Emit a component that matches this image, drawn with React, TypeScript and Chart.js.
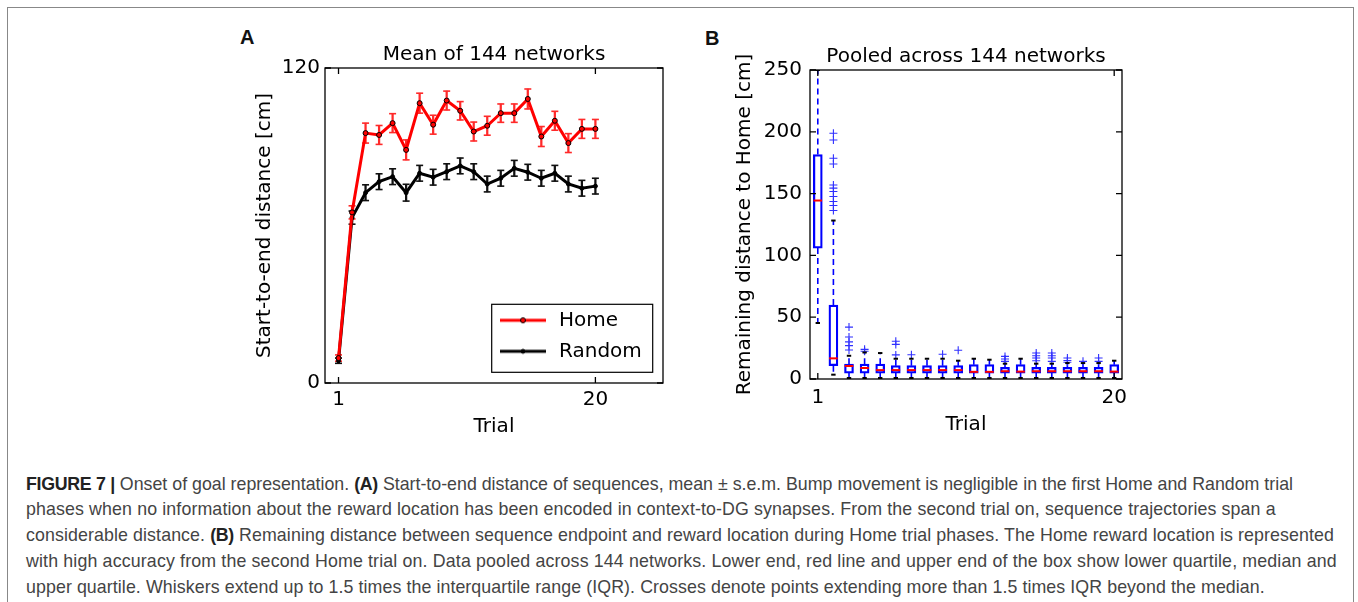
import React, { useEffect, useRef } from 'react';
import { Chart, registerables } from 'chart.js';

Chart.register(...registerables);
Chart.defaults.font.family = "'DejaVu Sans', sans-serif";
Chart.defaults.font.size = 20;
Chart.defaults.color = '#000';

// ---------- Panel A data ----------
const trials = [1, 2, 3, 4, 5, 6, 7, 8, 9, 10, 11, 12, 13, 14, 15, 16, 17, 18, 19, 20];
const homeMean = [9.5, 65, 95.2, 94.5, 99, 88.8, 106.6, 98.4, 107.6, 103.7, 95.8, 98, 102.8, 102.8, 108.2, 93.9, 99.9, 91.4, 96.8, 96.8];
const homeSem = [1.2, 2.5, 3.8, 3.6, 3.6, 3.8, 3.8, 3.6, 3.6, 3.5, 3.6, 3.6, 3.5, 3.5, 3.8, 3.8, 3.6, 3.6, 3.6, 3.6];
const randomMean = [8.5, 63, 72.5, 76.7, 78.6, 72.5, 79.9, 78.4, 80.5, 82.7, 80.5, 75.8, 78, 81.8, 80.3, 78, 79.9, 75.8, 74.2, 75];
const randomSem = [1, 2.5, 3, 3, 3, 3.2, 3, 3, 3, 3, 3, 3, 3, 3, 3, 3, 3, 3, 3, 3];
const xTicksA = [1, 20];
const yTicksA = [0, 120];

// ---------- Panel B data ----------
const boxLow = [45.3, 3.5, 0.8, 0.8, 0.8, 0.8, 0.8, 0.8, 0.8, 0.8, 0.8, 0.8, 0.8, 0.8, 0.8, 0.8, 0.8, 0.8, 0.8, 0.8];
const boxQ1 = [105.9, 10.8, 4.8, 4.8, 4.8, 4.8, 4.8, 4.8, 4.8, 4.8, 4.8, 4.8, 4.8, 4.8, 4.8, 4.8, 4.8, 4.8, 4.8, 4.8];
const boxMedian = [144.4, 16.7, 10.5, 8.9, 7.2, 7.2, 7.2, 7.2, 7.2, 7.2, 5.8, 5.8, 6.3, 6.0, 6.3, 6.3, 6.3, 6.3, 6.3, 6.0];
const boxQ3 = [181.6, 59.8, 12, 12, 12, 10.8, 10.8, 10.8, 10.8, 10.8, 11.6, 11.6, 9.5, 11.6, 9.5, 9.5, 9.5, 9.5, 9.5, 11.6];
const boxHigh = [250, 128.2, 18.8, 21.5, 21, 16.4, 16.4, 16.4, 16.4, 14.8, 16.4, 15.6, 12.4, 16.4, 12.4, 12.4, 12.9, 12.9, 12.9, 14.8];
const boxOutliers: number[][] = [
  [],
  [198.8, 193.4, 178.6, 174, 157, 154.4, 151.7, 147.7, 143.6, 140.4, 136.3],
  [42, 34, 30, 27, 23.5],
  [24, 22.5],
  [],
  [30.5, 28, 19.5],
  [19.6],
  [],
  [20],
  [23.2],
  [],
  [],
  [18.3, 16.2, 14.3],
  [],
  [21, 18.8, 17, 14.8],
  [21, 18.8, 17, 14.3],
  [17, 15, 13.5],
  [14.3],
  [17, 14.3],
  [],
];
const xTicksB = [1, 20];
const yTicksB = [0, 50, 100, 150, 200, 250];

// ---------- plugins ----------
const framePlugin = {
  id: 'mplFrame',
  afterDraw(chart: any) {
    const { ctx, chartArea: ca, scales } = chart;
    ctx.save();
    ctx.strokeStyle = '#000';
    ctx.lineWidth = 1.3;
    ctx.strokeRect(ca.left, ca.top, ca.right - ca.left, ca.bottom - ca.top);
    const L = 6;
    ctx.beginPath();
    scales.x.ticks.forEach((t: any) => {
      const px = scales.x.getPixelForValue(t.value);
      ctx.moveTo(px, ca.bottom); ctx.lineTo(px, ca.bottom - L);
      ctx.moveTo(px, ca.top); ctx.lineTo(px, ca.top + L);
    });
    scales.y.ticks.forEach((t: any) => {
      const py = scales.y.getPixelForValue(t.value);
      ctx.moveTo(ca.left, py); ctx.lineTo(ca.left + L, py);
      ctx.moveTo(ca.right, py); ctx.lineTo(ca.right - L, py);
    });
    ctx.stroke();
    const lb = chart.$legendBox;
    if (lb) {
      ctx.lineWidth = 1.2;
      ctx.strokeRect(lb.left, lb.top, lb.width, lb.height);
    }
    ctx.restore();
  },
};

const legendPlacePlugin = {
  id: 'legendPlace',
  afterLayout(chart: any) {
    const lg = chart.legend;
    const ca = chart.chartArea;
    if (!lg) return;
    const bw = 161;
    const bh = 68;
    const right = ca.right - 10.3;
    const bottom = ca.bottom - 10.7;
    const left = right - bw;
    const top = bottom - bh;
    lg.left = left - 5.7;
    lg.right = right;
    lg.top = top;
    lg.bottom = bottom;
    lg.width = lg.right - lg.left;
    lg.height = bh;
    chart.$legendBox = { left, top, width: bw, height: bh };
  },
};

function legendIcon(color: string, r: number) {
  const c = document.createElement('canvas');
  c.width = 46;
  c.height = 10;
  const g = c.getContext('2d')!;
  g.strokeStyle = color;
  g.lineWidth = 3;
  g.beginPath(); g.moveTo(0, 5); g.lineTo(46, 5); g.stroke();
  g.beginPath(); g.arc(23, 5, r, 0, Math.PI * 2);
  g.fillStyle = color; g.fill();
  g.lineWidth = 1; g.strokeStyle = '#000'; g.stroke();
  return c;
}

function errData(mean: number[], sem: number[]) {
  return trials.map((t, i) => ({ x: t, y: [mean[i] - sem[i], mean[i] + sem[i]] }));
}
function capData(mean: number[], sem: number[]) {
  return trials.flatMap((t, i) => [{ x: t, y: mean[i] - sem[i] }, { x: t, y: mean[i] + sem[i] }]);
}

function ChartA() {
  const ref = useRef<HTMLCanvasElement>(null);
  useEffect(() => {
    const homeIcon = legendIcon('#ff0000', 2.5);
    const randIcon = legendIcon('#000000', 2);
    const chart = new Chart(ref.current!, {
      type: 'scatter',
      data: {
        datasets: [
          {
            type: 'line', label: 'Home',
            data: trials.map((t, i) => ({ x: t, y: homeMean[i] })),
            borderColor: '#ff0000', borderWidth: 3, tension: 0,
            pointRadius: 2.5, pointBackgroundColor: '#ff0000', pointBorderColor: '#000', pointBorderWidth: 1,
          },
          {
            type: 'line', label: 'Random',
            data: trials.map((t, i) => ({ x: t, y: randomMean[i] })),
            borderColor: '#000', borderWidth: 3, tension: 0,
            pointRadius: 2, pointBackgroundColor: '#000', pointBorderColor: '#000', pointBorderWidth: 1,
          },
          {
            type: 'bar', label: 'homeErr', data: errData(homeMean, homeSem) as any,
            backgroundColor: '#ff2a2a', borderWidth: 0, barThickness: 1.6, grouped: false,
          },
          {
            type: 'scatter', label: 'homeCaps', data: capData(homeMean, homeSem),
            pointStyle: 'line', pointRadius: 3.5, borderColor: '#ff2a2a', borderWidth: 1.6, showLine: false,
          },
          {
            type: 'bar', label: 'randErr', data: errData(randomMean, randomSem) as any,
            backgroundColor: '#111', borderWidth: 0, barThickness: 1.6, grouped: false,
          },
          {
            type: 'scatter', label: 'randCaps', data: capData(randomMean, randomSem),
            pointStyle: 'line', pointRadius: 3.5, borderColor: '#111', borderWidth: 1.6, showLine: false,
          },
        ] as any,
      },
      options: {
        responsive: false,
        animation: false,
        layout: { padding: { left: 0, right: 17, top: 0, bottom: 0 } },
        plugins: {
          title: {
            display: true, text: 'Mean of 144 networks', fullSize: false, color: '#000',
            font: { size: 20, weight: 'normal' }, padding: { top: 23, bottom: 1 },
          },
          legend: {
            display: true, position: 'chartArea', align: 'end',
            labels: {
              usePointStyle: true, pointStyleWidth: 52, padding: 11, color: '#000', font: { size: 20 },
              generateLabels: () => [
                { text: 'Home', pointStyle: homeIcon, datasetIndex: 0, fontColor: '#000', lineWidth: 0, hidden: false, fillStyle: '#ff0000', strokeStyle: '#ff0000' },
                { text: 'Random', pointStyle: randIcon, datasetIndex: 1, fontColor: '#000', lineWidth: 0, hidden: false, fillStyle: '#000', strokeStyle: '#000' },
              ] as any,
            },
          },
          tooltip: { enabled: false },
        },
        scales: {
          x: {
            type: 'linear', min: 0, max: 25, offset: false,
            afterBuildTicks: (s: any) => { s.ticks = xTicksA.map((v) => ({ value: v })); },
            afterFit: (s: any) => { s.height = 57; },
            ticks: { padding: 5, color: '#000', font: { size: 20 }, autoSkip: false, maxRotation: 0, callback: (v: any) => String(v) },
            grid: { display: false, drawTicks: false, offset: false },
            border: { display: false },
            title: { display: true, text: 'Trial', color: '#000', font: { size: 20 }, padding: { top: 0, bottom: 1 } },
          },
          y: {
            type: 'linear', min: 0, max: 120, offset: false,
            afterBuildTicks: (s: any) => { s.ticks = yTicksA.map((v) => ({ value: v })); },
            afterFit: (s: any) => { s.width = 95; },
            ticks: { padding: 5, color: '#000', font: { size: 20 }, autoSkip: false, callback: (v: any) => String(v) },
            grid: { display: false, drawTicks: false },
            border: { display: false },
            title: { display: true, text: 'Start-to-end distance [cm]', color: '#000', font: { size: 20 }, padding: { top: 23, bottom: 0 } },
          },
        },
      } as any,
      plugins: [framePlugin, legendPlacePlugin],
    });
    return () => chart.destroy();
  }, []);
  return <canvas ref={ref} width={450} height={420} style={{ position: 'absolute', left: 230, top: 20 }} />;
}

function ChartB() {
  const ref = useRef<HTMLCanvasElement>(null);
  useEffect(() => {
    const whiskers: any[] = [];
    trials.forEach((t, i) => {
      whiskers.push({ x: t, y: boxQ3[i] }, { x: t, y: boxHigh[i] }, { x: t, y: null });
      whiskers.push({ x: t, y: boxQ1[i] }, { x: t, y: boxLow[i] }, { x: t, y: null });
    });
    const caps = trials.flatMap((t, i) => [{ x: t, y: boxLow[i] }, { x: t, y: boxHigh[i] }]);
    const medians = trials.map((t, i) => ({ x: t, y: boxMedian[i] }));
    const outl = trials.flatMap((t, i) => boxOutliers[i].map((v) => ({ x: t, y: v })));
    const boxes = trials.map((t, i) => ({ x: t, y: [boxQ1[i], boxQ3[i]] }));
    const chart = new Chart(ref.current!, {
      type: 'scatter',
      data: {
        datasets: [
          {
            type: 'scatter', label: 'median', data: medians,
            pointStyle: 'line', pointRadius: 4.3, borderColor: '#ff0000', borderWidth: 2, showLine: false,
          },
          {
            type: 'scatter', label: 'caps', data: caps,
            pointStyle: 'line', pointRadius: 2.2, borderColor: '#000', borderWidth: 2, showLine: false,
          },
          {
            type: 'scatter', label: 'outliers', data: outl,
            pointStyle: 'cross', pointRadius: 4, borderColor: '#3030ff', borderWidth: 1.1, showLine: false,
          },
          {
            type: 'line', label: 'whiskers', data: whiskers,
            borderColor: '#0000ff', borderWidth: 1.6, borderDash: [6, 4], pointRadius: 0, spanGaps: false, tension: 0,
          },
          {
            type: 'bar', label: 'boxes', data: boxes as any,
            backgroundColor: 'rgba(255,255,255,0)', borderColor: '#0000ff', borderWidth: 1.6,
            borderSkipped: false, barThickness: 9, grouped: false,
          },
        ] as any,
      },
      options: {
        responsive: false,
        animation: false,
        layout: { padding: { left: 0, right: 18, top: 0, bottom: 0 } },
        plugins: {
          title: {
            display: true, text: 'Pooled across 144 networks', fullSize: false, color: '#000',
            font: { size: 20, weight: 'normal' }, padding: { top: 25, bottom: 1 },
          },
          legend: { display: false },
          tooltip: { enabled: false },
        },
        scales: {
          x: {
            type: 'linear', min: 0.5, max: 20.5, offset: false,
            afterBuildTicks: (s: any) => { s.ticks = xTicksB.map((v) => ({ value: v })); },
            afterFit: (s: any) => { s.height = 61; },
            ticks: { padding: 6.5, color: '#000', font: { size: 20 }, autoSkip: false, maxRotation: 0, callback: (v: any) => String(v) },
            grid: { display: false, drawTicks: false, offset: false },
            border: { display: false },
            title: { display: true, text: 'Trial', color: '#000', font: { size: 20 }, padding: { top: 0, bottom: 3 } },
          },
          y: {
            type: 'linear', min: 0, max: 250, offset: false,
            afterBuildTicks: (s: any) => { s.ticks = yTicksB.map((v) => ({ value: v })); },
            afterFit: (s: any) => { s.width = 110; },
            ticks: { padding: 8, color: '#000', font: { size: 20 }, autoSkip: false, callback: (v: any) => String(v) },
            grid: { display: false, drawTicks: false },
            border: { display: false },
            title: { display: true, text: 'Remaining distance to Home [cm]', color: '#000', font: { size: 20 }, padding: { top: 33, bottom: 0 } },
          },
        },
      } as any,
      plugins: [framePlugin],
    });
    return () => chart.destroy();
  }, []);
  return <canvas ref={ref} width={440} height={420} style={{ position: 'absolute', left: 700, top: 20 }} />;
}

const boldStyle = { color: '#222', letterSpacing: '-0.3px' };
const captionLines: React.ReactNode[] = [
  <><b style={boldStyle}>FIGURE 7 |</b> Onset of goal representation. <b style={boldStyle}>(A)</b> Start-to-end distance of sequences, mean ± s.e.m. Bump movement is negligible in the first Home and Random trial</>,
  <>phases when no information about the reward location has been encoded in context-to-DG synapses. From the second trial on, sequence trajectories span a</>,
  <>considerable distance. <b style={boldStyle}>(B)</b> Remaining distance between sequence endpoint and reward location during Home trial phases. The Home reward location is represented</>,
  <>with high accuracy from the second Home trial on. Data pooled across 144 networks. Lower end, red line and upper end of the box show lower quartile, median and</>,
  <>upper quartile. Whiskers extend up to 1.5 times the interquartile range (IQR). Crosses denote points extending more than 1.5 times IQR beyond the median.</>,
];
const captionSpacing = ['0px', '0.12px', '0.1px', '0.15px', '0.08px'];

export default function App() {
  return (
    <div style={{ position: 'absolute', left: 0, top: 0, width: 1358, height: 602, background: '#fff', overflow: 'hidden' }}>
      <div style={{ position: 'absolute', left: 7, top: 7, width: 1347, height: 640, border: '1px solid #888', boxSizing: 'border-box' }} />
      <div style={{ position: 'absolute', left: 240, top: 27, font: "bold 20px 'Liberation Sans', Arial, sans-serif", lineHeight: '20px', color: '#111' }}>A</div>
      <div style={{ position: 'absolute', left: 705, top: 28, font: "bold 20px 'Liberation Sans', Arial, sans-serif", lineHeight: '20px', color: '#111' }}>B</div>
      <ChartA />
      <ChartB />
      <div style={{ position: 'absolute', left: 26, top: 471.5, font: "17.8px 'Liberation Sans', Arial, sans-serif", lineHeight: '25.8px', color: '#444', whiteSpace: 'nowrap' }}>
        {captionLines.map((l, i) => <div key={i} style={{ letterSpacing: captionSpacing[i] }}>{l}</div>)}
      </div>
    </div>
  );
}
